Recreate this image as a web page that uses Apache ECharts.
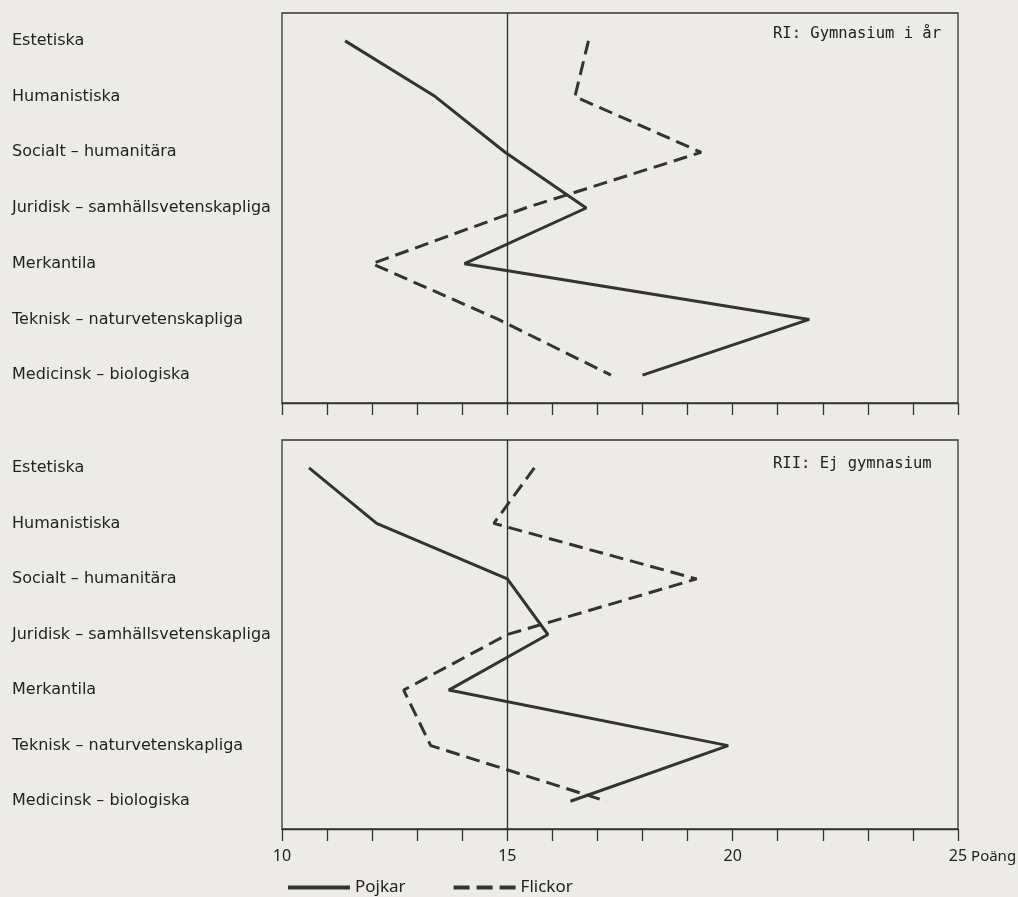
<!DOCTYPE html>
<html>
<head>
<meta charset="utf-8">
<script src="https://cdn.jsdelivr.net/npm/echarts@6/dist/echarts.min.js"></script>
<style>
html,body{margin:0;padding:0;background:#ecebe7;}
#c{width:1018px;height:897px;}
</style>
</head>
<body>
<div id="c"></div>
<script>
const categories = ['Estetiska','Humanistiska','Socialt – humanitära','Juridisk – samhällsvetenskapliga','Merkantila','Teknisk – naturvetenskapliga','Medicinsk – biologiska'];
const pojkarRI = [11.4, 13.4, 14.95, 16.75, 14.05, 21.7, 18.0];
const flickorRI = [16.8, 16.5, 19.3, 15.4, 12.0, 14.8, 17.3];
const pojkarRII = [10.6, 12.1, 15.0, 15.9, 13.7, 19.9, 16.4];
const flickorRII = [15.6, 14.7, 19.2, 15.0, 12.7, 13.3, 17.2];
const xTickLabels = [10, 15, 20, 25];
const panelTitles = ['RI: Gymnasium i år', 'RII: Ej gymnasium'];
const seriesNames = ['Pojkar', 'Flickor'];
const refValue = 15;

const ink = '#333333';
const font = 'Noto Sans';
const grids = [
  {left: 282, top: 13, width: 676, height: 390},
  {left: 282, top: 440, width: 676, height: 389}
];

function xAxis(i, showLabels) {
  return {
    type: 'value', gridIndex: i, min: 10, max: 25, interval: 1,
    splitLine: {show: false},
    axisLine: {show: true, lineStyle: {color: ink, width: 1.3}},
    axisTick: {show: true, inside: false, length: 12, lineStyle: {color: ink, width: 1.3}},
    axisLabel: {
      show: showLabels, margin: 19, color: '#222', fontFamily: font, fontSize: 16,
      formatter: v => xTickLabels.indexOf(v) >= 0 ? String(v) : ''
    },
    name: showLabels ? 'Poäng' : '', nameLocation: 'end', nameGap: 11,
    nameTextStyle: {color: '#222', fontFamily: font, fontSize: 15, align: 'left', verticalAlign: 'top', padding: [20, 0, 0, 0]}
  };
}
function yAxis(i) {
  return {
    type: 'category', gridIndex: i, data: categories, inverse: true, boundaryGap: true,
    axisLine: {show: false}, axisTick: {show: false}, splitLine: {show: false},
    axisLabel: {align: 'left', margin: 270, color: '#222', fontFamily: 'DejaVu Sans', fontSize: 16}
  };
}
function lineSeries(name, vals, i, dashed) {
  return {
    name: name, type: 'line', xAxisIndex: i, yAxisIndex: i,
    data: vals.map((v, k) => [v, categories[k]]),
    symbol: 'none', smooth: false, animation: false,
    lineStyle: {color: ink, width: 3, type: dashed ? [14, 7] : 'solid', cap: 'butt'},
    itemStyle: {color: ink}
  };
}
function refLine(i) {
  return {
    type: 'line', xAxisIndex: i, yAxisIndex: i, data: [], silent: true, animation: false,
    markLine: {symbol: 'none', silent: true, label: {show: false},
      lineStyle: {color: ink, width: 1.4, type: 'solid'},
      data: [{xAxis: refValue}]}
  };
}

const chart = echarts.init(document.getElementById('c'));
chart.setOption({
  backgroundColor: '#ecebe7',
  animation: false,
  grid: grids.map(g => Object.assign({show: true, borderColor: ink, borderWidth: 1.3, backgroundColor: 'transparent', containLabel: false, outerBoundsMode: 'none'}, g)),
  xAxis: [xAxis(0, false), xAxis(1, true)],
  yAxis: [yAxis(0), yAxis(1)],
  legend: {
    left: 283, top: 874, itemWidth: 62, itemHeight: 4, itemGap: 48,
    data: [
      {name: seriesNames[0], icon: 'path://M0,0H62V4H0Z'},
      {name: seriesNames[1], icon: 'path://M0,0H16V4H0Z M23,0H39V4H23Z M46,0H62V4H46Z'}
    ],
    textStyle: {color: '#222', fontFamily: font, fontSize: 17}
  },
  graphic: [
    {type: 'text', left: 773, top: 26, style: {text: panelTitles[0], fill: '#222', font: '15.5px "DejaVu Sans Mono"'}},
    {type: 'text', left: 773, top: 456, style: {text: panelTitles[1], fill: '#222', font: '15.5px "DejaVu Sans Mono"'}}
  ],
  series: [
    refLine(0), refLine(1),
    lineSeries(seriesNames[0], pojkarRI, 0, false),
    lineSeries(seriesNames[1], flickorRI, 0, true),
    lineSeries(seriesNames[0], pojkarRII, 1, false),
    lineSeries(seriesNames[1], flickorRII, 1, true)
  ]
});
</script>
</body>
</html>
